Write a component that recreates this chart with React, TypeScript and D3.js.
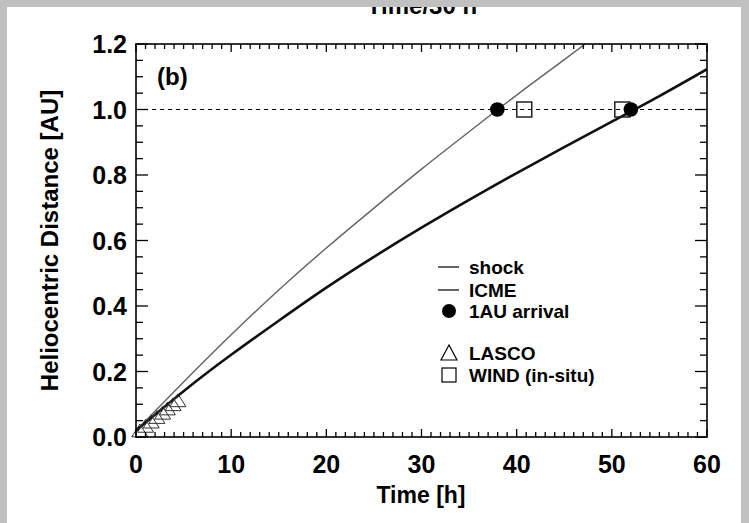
import React from "react";
import * as d3 from "d3";

const xTicks = [0, 10, 20, 30, 40, 50, 60];
const yTicks = [0.0, 0.2, 0.4, 0.6, 0.8, 1.0, 1.2];

const icmeT = [0, 5, 10, 15, 20, 25, 30, 35, 40, 45, 47.2];
const icmeR = [0.02, 0.168, 0.312, 0.449, 0.577, 0.699, 0.818, 0.932, 1.044, 1.152, 1.2];

const shockT = [0, 5, 10, 15, 20, 25, 30, 35, 40, 45, 50, 55, 60];
const shockR = [0.02, 0.14, 0.251, 0.355, 0.456, 0.55, 0.639, 0.724, 0.806, 0.885, 0.963, 1.041, 1.123];

const lascoT = [0.4, 1.0, 1.6, 2.2, 2.8, 3.3, 3.9, 4.4];
const lascoR = [0.014, 0.028, 0.041, 0.055, 0.068, 0.081, 0.094, 0.106];

const windT = [40.8, 51.1];
const windR = [1.0, 1.0];

const arrivalT = [37.97, 52.0];
const arrivalR = [1.0, 1.0];

const legendLabels = ["shock", "ICME", "1AU arrival", "LASCO", "WIND (in-situ)"];

const W = 749;
const H = 523;
const m = { left: 136, right: 707, top: 44, bottom: 437 };
const FONT = "'Liberation Sans', Arial, Helvetica, sans-serif";

export default function App() {
  const x = d3.scaleLinear().domain([0, 60]).range([m.left, m.right]);
  const y = d3.scaleLinear().domain([0, 1.2]).range([m.bottom, m.top]);

  const line = d3
    .line<[number, number]>()
    .x((d) => x(d[0]))
    .y((d) => y(d[1]))
    .curve(d3.curveNatural);

  const icme = icmeT.map((t, i) => [t, icmeR[i]] as [number, number]);
  const shock = shockT.map((t, i) => [t, shockR[i]] as [number, number]);

  const xMinor = d3.range(0, 61, 1);
  const yMinor = d3.range(0, 1.2001, 0.05);

  const legX = 449;
  const legTextX = 469;
  const legY = [274, 297, 318, 360, 382];

  return (
    <svg
      width={W}
      height={H}
      style={{ position: "absolute", left: 0, top: 0, background: "#fff" }}
      fontFamily={FONT}
    >
      <rect x={0} y={0} width={W} height={H} fill="#fff" />
      {/* top title, cut off by the frame as in the source */}
      <text x={422} y={14} textAnchor="middle" fontSize={24} fontWeight="bold">
        Time/30 h
      </text>

      <defs>
        <clipPath id="plotclip">
          <rect x={m.left} y={m.top} width={m.right - m.left} height={m.bottom - m.top} />
        </clipPath>
      </defs>

      <line
        x1={m.left}
        x2={m.right}
        y1={y(1.0)}
        y2={y(1.0)}
        stroke="#000"
        strokeWidth={1.2}
        strokeDasharray="4,4"
      />

      <g clipPath="url(#plotclip)">
        <path d={line(icme) || ""} fill="none" stroke="#666" strokeWidth={1.5} />
        <path d={line(shock) || ""} fill="none" stroke="#111" strokeWidth={2.6} />
      </g>

      {lascoT.map((t, i) => {
        const cx = x(t);
        const cy = y(lascoR[i]);
        const s = 8;
        return (
          <path
            key={"l" + i}
            d={`M${cx - s},${cy + s * 0.55} L${cx + s},${cy + s * 0.55} L${cx},${cy - s * 1.05} Z`}
            fill="none"
            stroke="#333"
            strokeWidth={1}
          />
        );
      })}

      {windT.map((t, i) => (
        <rect
          key={"w" + i}
          x={x(t) - 7.5}
          y={y(windR[i]) - 7.5}
          width={15}
          height={15}
          fill="none"
          stroke="#222"
          strokeWidth={1.5}
        />
      ))}

      {arrivalT.map((t, i) => (
        <circle key={"a" + i} cx={x(t)} cy={y(arrivalR[i])} r={7.3} fill="#000" />
      ))}

      <rect
        x={m.left}
        y={m.top}
        width={m.right - m.left}
        height={m.bottom - m.top}
        fill="none"
        stroke="#000"
        strokeWidth={1.6}
      />

      {xMinor.map((t) => {
        const major = t % 10 === 0;
        const len = major ? 8 : 5;
        return (
          <g key={"xt" + t}>
            <line x1={x(t)} x2={x(t)} y1={m.bottom} y2={m.bottom - len} stroke="#000" strokeWidth={1.3} />
            <line x1={x(t)} x2={x(t)} y1={m.top} y2={m.top + len} stroke="#000" strokeWidth={1.3} />
          </g>
        );
      })}
      {yMinor.map((v, i) => {
        const major = i % 4 === 0;
        const len = major ? 12 : 7;
        return (
          <g key={"yt" + i}>
            <line x1={m.left} x2={m.left + len} y1={y(v)} y2={y(v)} stroke="#000" strokeWidth={1.3} />
            <line x1={m.right} x2={m.right - len} y1={y(v)} y2={y(v)} stroke="#000" strokeWidth={1.3} />
          </g>
        );
      })}

      {xTicks.map((t) => (
        <text key={"xl" + t} x={x(t)} y={473} textAnchor="middle" fontSize={25} fontWeight="bold">
          {t}
        </text>
      ))}
      {yTicks.map((v) => (
        <text
          key={"yl" + v}
          x={127}
          y={y(v) + 9}
          textAnchor="end"
          fontSize={25}
          fontWeight="bold"
        >
          {v.toFixed(1)}
        </text>
      ))}

      <text x={421} y={503} textAnchor="middle" fontSize={23} fontWeight="bold">
        Time [h]
      </text>
      <text
        transform={`translate(58,${(m.top + m.bottom) / 2}) rotate(-90)`}
        textAnchor="middle"
        fontSize={24}
        fontWeight="bold"
      >
        Heliocentric Distance [AU]
      </text>

      <text x={157} y={85} fontSize={24} fontWeight="bold">
        (b)
      </text>

      <line x1={438} x2={459} y1={legY[0] - 7} y2={legY[0] - 7} stroke="#000" strokeWidth={1.2} />
      <line x1={438} x2={459} y1={legY[1] - 7} y2={legY[1] - 7} stroke="#000" strokeWidth={1.2} />
      <circle cx={legX} cy={legY[2] - 7} r={7} fill="#000" />
      <path
        d={`M${legX - 8},${legY[3]} L${legX + 8},${legY[3]} L${legX},${legY[3] - 15} Z`}
        fill="none"
        stroke="#000"
        strokeWidth={1.2}
      />
      <rect x={legX - 7} y={legY[4] - 14} width={14} height={14} fill="none" stroke="#000" strokeWidth={1.2} />
      {legendLabels.map((s, i) => (
        <text key={"lg" + i} x={legTextX} y={legY[i]} fontSize={19} fontWeight="bold">
          {s}
        </text>
      ))}

      <rect x={0} y={0} width={W} height={7} fill="#c0c0c0" />
      <rect x={0} y={0} width={7} height={H} fill="#c0c0c0" />
      <rect x={741} y={0} width={8} height={H} fill="#c0c0c0" />
    </svg>
  );
}
